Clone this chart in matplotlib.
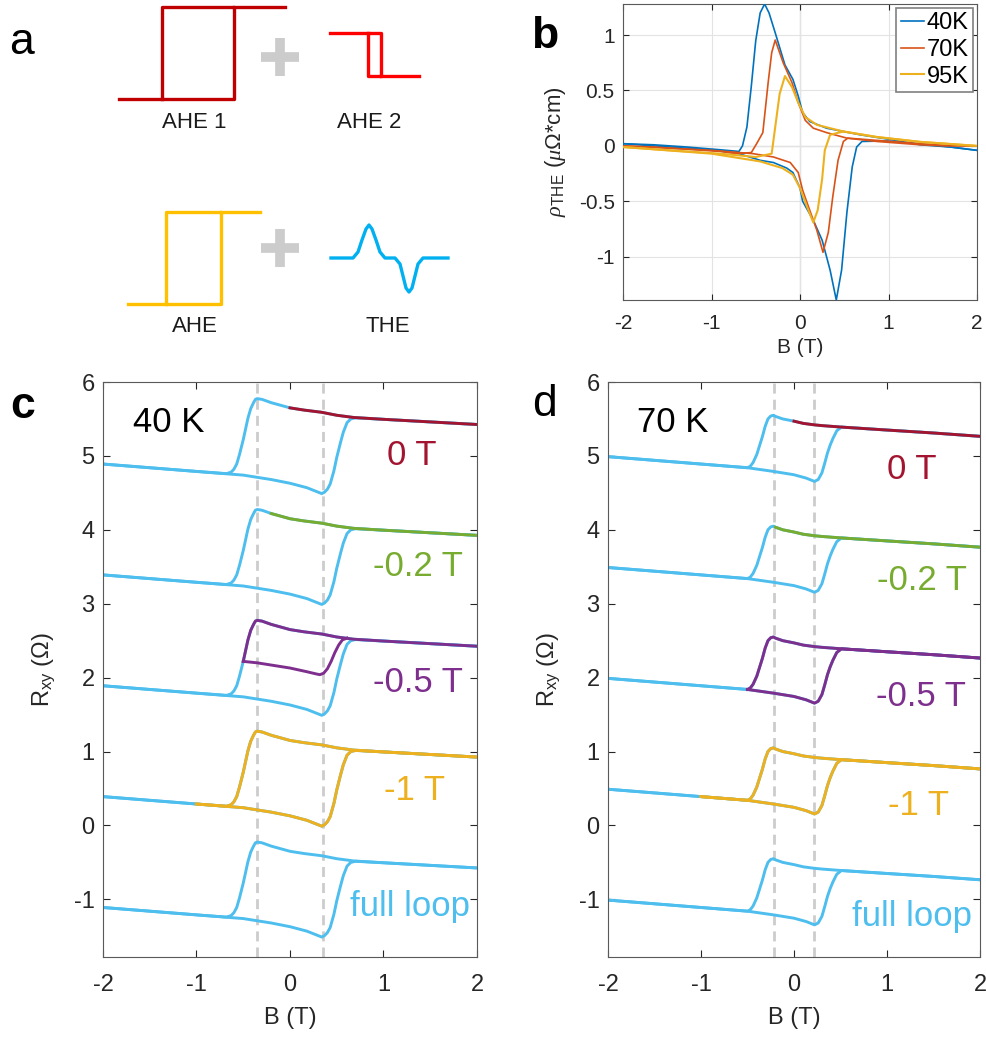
import matplotlib.pyplot as plt
import numpy as np

plt.rcParams['font.family'] = ['Liberation Sans', 'DejaVu Sans']
plt.rcParams['mathtext.fontset'] = 'custom'
plt.rcParams['mathtext.rm'] = 'Liberation Sans'
plt.rcParams['mathtext.it'] = 'Liberation Serif:italic'
plt.rcParams['mathtext.sf'] = 'Liberation Sans'

# ---- panel a: schematic loops (drawn in pixel-like units) ----
ahe1_x = [119, 234, 234, 162, 162, np.nan, 234, 285]
ahe1_y = [99, 99, 7, 7, 99, np.nan, 7, 7]
ahe2_x = [330, 381, 381, 368, 368, np.nan, 381, 419]
ahe2_y = [33, 33, 76, 76, 33, np.nan, 76, 76]
ahe_x = [128, 221, 221, 166, 166, np.nan, 221, 260]
ahe_y = [304, 304, 212, 212, 304, np.nan, 212, 212]
the_x = [331, 353, 358, 362, 366, 369, 372, 376, 380, 385, 395, 400, 403, 406, 409, 412, 415, 418, 423, 448]
the_y = [258, 258, 252, 240, 229, 225, 229, 240, 252, 258, 258, 264, 276, 288, 292, 288, 276, 264, 258, 258]

# ---- panel b: rho_THE vs B ----
b40_dn_B = [2.0, 1.7, 1.36, 1.05, 0.68, 0.3, 0.11, 0.03, -0.02, -0.08, -0.17, -0.28, -0.35, -0.40,
            -0.45, -0.5, -0.55, -0.6, -0.65, -0.69, -0.9, -1.28, -1.65, -2.0]
b40_dn_r = [-0.04, -0.01, 0.01, 0.054, 0.1, 0.16, 0.22, 0.3, 0.45, 0.6, 0.73, 1.02, 1.2, 1.28,
            1.2, 0.95, 0.54, 0.17, 0.0, -0.05, -0.035, -0.01, 0.01, 0.02]
b40_up_B = [-2.0, -1.47, -1.02, -0.71, -0.45, -0.3, -0.15, -0.08, 0.0, 0.03, 0.15, 0.25, 0.34, 0.41,
            0.47, 0.53, 0.59, 0.64, 0.70, 0.98, 1.36, 1.7, 2.0]
b40_up_r = [0.02, -0.01, -0.036, -0.065, -0.13, -0.15, -0.2, -0.24, -0.38, -0.5, -0.67, -0.85, -1.12, -1.39,
            -1.12, -0.6, -0.19, -0.01, 0.04, 0.045, 0.02, -0.01, -0.04]
b70_dn_B = [2.0, 1.65, 1.36, 0.87, 0.53, 0.3, 0.15, 0.06, -0.02, -0.09, -0.19, -0.28, -0.32, -0.36,
            -0.42, -0.49, -0.55, -0.72, -0.9, -1.28, -1.65, -2.0]
b70_dn_r = [0.0, 0.0, 0.01, 0.04, 0.07, 0.12, 0.16, 0.23, 0.39, 0.57, 0.75, 0.955, 0.84, 0.57,
            0.12, 0.02, -0.06, -0.07, -0.05, -0.03, -0.01, 0.0]
b70_up_B = [-2.0, -1.5, -1.0, -0.53, -0.3, -0.11, -0.02, 0.03, 0.11, 0.19, 0.26, 0.32, 0.37, 0.43,
            0.49, 0.54, 0.87, 1.36, 1.65, 2.0]
b70_up_r = [0.0, -0.02, -0.04, -0.07, -0.1, -0.15, -0.24, -0.4, -0.58, -0.76, -0.96, -0.78, -0.46, -0.13,
            0.04, 0.07, 0.05, 0.02, 0.005, 0.0]
b95_dn_B = [2.0, 1.65, 1.36, 0.87, 0.49, 0.19, 0.06, -0.02, -0.09, -0.17, -0.23, -0.28, -0.32, -0.5,
            -0.9, -1.28, -1.65, -2.0]
b95_dn_r = [0.0, 0.02, 0.036, 0.08, 0.13, 0.19, 0.26, 0.39, 0.53, 0.63, 0.47, 0.17, -0.07, -0.1,
            -0.07, -0.05, -0.03, -0.01]
b95_up_B = [-2.0, -1.5, -1.0, -0.45, -0.2, -0.08, 0.0, 0.08, 0.15, 0.2, 0.25, 0.28, 0.34, 0.49,
            0.87, 1.36, 1.65, 2.0]
b95_up_r = [-0.01, -0.04, -0.07, -0.14, -0.2, -0.26, -0.38, -0.55, -0.69, -0.58, -0.3, -0.04, 0.1, 0.13,
            0.08, 0.036, 0.02, 0.0]
b_temps = ['40K', '70K', '95K']
b_colors = ['#0072BD', '#D95319', '#EDB120']

# ---- panels c, d: Rxy loops (full loop, offset 0) ----
c_dn_B = [2.0, 1.5, 1.0, 0.68, 0.5, 0.34, 0.15, 0.0, -0.2, -0.3, -0.35, -0.37, -0.39, -0.42, -0.45,
          -0.5, -0.54, -0.57, -0.6, -0.63, -0.68, -1.0, -1.5, -2.0]
c_dn_R = [-0.575, -0.54, -0.505, -0.48, -0.45, -0.41, -0.38, -0.35, -0.28, -0.235, -0.225, -0.235, -0.28, -0.36, -0.49,
          -0.78, -0.98, -1.11, -1.18, -1.22, -1.24, -1.21, -1.16, -1.11]
c_up_B = [-2.0, -1.5, -1.0, -0.7, -0.5, -0.35, -0.2, 0.0, 0.18, 0.28, 0.34, 0.37, 0.40, 0.43, 0.47,
          0.5, 0.54, 0.57, 0.61, 0.65, 0.7, 1.0, 1.5, 2.0]
c_up_R = [-1.11, -1.16, -1.21, -1.24, -1.26, -1.29, -1.32, -1.37, -1.43, -1.48, -1.51, -1.49, -1.45, -1.38, -1.2,
          -1.02, -0.82, -0.68, -0.55, -0.5, -0.485, -0.505, -0.54, -0.575]
c_minor_B = [-0.5, -0.35, 0.0, 0.18, 0.28, 0.32, 0.36, 0.40, 0.44, 0.48, 0.52, 0.56, 0.61]
c_minor_R = [-0.78, -0.80, -0.87, -0.92, -0.95, -0.96, -0.94, -0.88, -0.78, -0.66, -0.56, -0.49, -0.465]

d_dn_B = [2.0, 1.5, 1.0, 0.51, 0.3, 0.22, 0.1, 0.0, -0.12, -0.2, -0.22, -0.25, -0.28, -0.31, -0.34,
          -0.37, -0.40, -0.44, -0.47, -0.5, -1.0, -1.5, -2.0]
d_dn_R = [-0.735, -0.69, -0.65, -0.61, -0.59, -0.58, -0.56, -0.53, -0.5, -0.465, -0.45, -0.46, -0.5, -0.6, -0.74,
          -0.86, -0.98, -1.09, -1.14, -1.16, -1.11, -1.06, -1.01]
d_up_B = [-2.0, -1.5, -1.0, -0.5, -0.22, 0.0, 0.13, 0.19, 0.22, 0.26, 0.30, 0.33, 0.36, 0.39, 0.42,
          0.46, 0.51, 1.0, 1.5, 2.0]
d_up_R = [-1.01, -1.06, -1.11, -1.16, -1.21, -1.255, -1.30, -1.33, -1.345, -1.32, -1.23, -1.10, -0.96, -0.85, -0.76,
          -0.66, -0.61, -0.65, -0.69, -0.735]

loop_stops = [0.0, -0.2, -0.5, -1.0, None]
loop_offsets = [6.0, 4.5, 3.0, 1.5, 0.0]
loop_labels = ['0 T', '-0.2 T', '-0.5 T', '-1 T', 'full loop']
loop_colors = ['#A2142F', '#77AC30', '#7E2F8E', '#EDB120', '#4DBEEE']
c_label_pos = [(1.30, 5.0), (1.37, 3.51), (1.37, 1.93), (1.33, 0.47), (1.28, -1.09)]
d_label_pos = [(1.27, 4.81), (1.38, 3.31), (1.37, 1.74), (1.34, 0.27), (1.27, -1.23)]
c_switch = [-0.35, 0.35]
d_switch = [-0.22, 0.22]

W, H = 987, 1041
fig = plt.figure(figsize=(W / 100, H / 100), dpi=100)
txt = '#262626'
edge = '#595959'

# panel a
axa = fig.add_axes([0, 1 - 340 / H, 480 / W, 340 / H])
axa.set_xlim(0, 480)
axa.set_ylim(340, 0)
axa.axis('off')
axa.plot(ahe1_x, ahe1_y, color='#C00000', lw=2.4)
axa.plot(ahe2_x, ahe2_y, color='#FF0000', lw=2.4)
axa.plot(ahe_x, ahe_y, color='#FFC000', lw=2.4)
axa.plot(the_x, the_y, color='#00B0F0', lw=2.4)
for cy in [57, 248]:
    axa.plot([261, 299], [cy, cy], color='#CCCCCC', lw=7, solid_capstyle='butt')
    axa.plot([280, 280], [cy - 19, cy + 19], color='#CCCCCC', lw=7, solid_capstyle='butt')
for s, x, y in [('AHE 1', 194, 122), ('AHE 2', 369, 122), ('AHE', 195, 326), ('THE', 388, 326)]:
    axa.text(x, y, s, ha='center', va='center', fontsize=16, color='#1a1a1a')

# panel b
axb = fig.add_axes([623 / W, 1 - 300 / H, 354 / W, 296 / H])
axb.grid(True, color='#e3e3e3', lw=0.8)
axb.axhline(0, color='#888888', lw=0.8, zorder=1)
axb.axvline(0, color='#888888', lw=0.8, zorder=1)
b_data = [(b40_dn_B, b40_dn_r, b40_up_B, b40_up_r),
          (b70_dn_B, b70_dn_r, b70_up_B, b70_up_r),
          (b95_dn_B, b95_dn_r, b95_up_B, b95_up_r)]
for (dB, dr, uB, ur), name, col, lw in zip(b_data, b_temps, b_colors, [1.2, 1.2, 1.5]):
    axb.plot(dB, dr, color=col, lw=lw, label=name, zorder=3)
    axb.plot(uB, ur, color=col, lw=lw, zorder=3)
axb.set_xlim(-2, 2)
axb.set_ylim(-1.39, 1.28)
axb.set_xticks([-2, -1, 0, 1, 2])
axb.set_yticks([-1, -0.5, 0, 0.5, 1])
axb.set_yticklabels(['-1', '-0.5', '0', '0.5', '1'])
axb.set_xticklabels(['-2', '-1', '0', '1', '2'])
axb.tick_params(direction='in', top=True, right=True, labelsize=15, colors=txt, length=4)
axb.tick_params(axis='x', pad=10)
axb.tick_params(axis='y', pad=6)
axb.set_xlabel('B (T)', fontsize=15, color=txt, labelpad=4)
axb.set_ylabel(r'$\rho_{\mathrm{THE}}$ ($\mu\mathit{\Omega}$*cm)', fontsize=16, color=txt, labelpad=8)
for sp in axb.spines.values():
    sp.set_color(edge)
leg = axb.legend(loc='upper right', fontsize=17, handlelength=1.0, handletextpad=0.1,
                 borderaxespad=0.15, labelspacing=0.2, borderpad=0.2, fancybox=False,
                 edgecolor='#808080', framealpha=1)
leg.get_frame().set_linewidth(1.2)


def draw_loops(ax, dn_B, dn_R, up_B, up_R, minor, switch, label_pos, temp):
    dn_B = np.array(dn_B)
    dn_R = np.array(dn_R)
    up_B = np.array(up_B)
    up_R = np.array(up_R)
    for xs in switch:
        ax.axvline(xs, color='#CCCCCC', lw=2, dashes=(3.6, 2.2), zorder=1)
    blue = loop_colors[-1]
    for stop, off, lab, col, (tx, ty) in zip(loop_stops, loop_offsets, loop_labels, loop_colors, label_pos):
        ax.plot(up_B, up_R + off, color=blue, lw=2.1, zorder=2)
        ax.plot(dn_B, dn_R + off, color=blue, lw=2.1, zorder=2)
        if stop is not None:
            m = dn_B >= stop - 1e-9
            ax.plot(dn_B[m], dn_R[m] + off, color=col, lw=2.1, zorder=3)
            if stop <= -0.5:
                if minor is not None and stop == -0.5:
                    ax.plot(minor[0], np.array(minor[1]) + off, color=col, lw=2.1, zorder=3)
                else:
                    mu = up_B >= stop - 1e-9
                    ax.plot(up_B[mu], up_R[mu] + off, color=col, lw=2.1, zorder=3)
        ax.text(tx, ty, lab, color=col, fontsize=25, ha='center', va='center')
    ax.text(-1.30, 5.45, temp, fontsize=25, ha='center', va='center', color='black')
    ax.set_xlim(-2, 2)
    ax.set_ylim(-1.78, 6)
    ax.set_xticks([-2, -1, 0, 1, 2])
    ax.set_xticklabels(['-2', '-1', '0', '1', '2'])
    ax.set_yticks([-1, 0, 1, 2, 3, 4, 5, 6])
    ax.set_yticklabels(['-1', '0', '1', '2', '3', '4', '5', '6'])
    ax.tick_params(direction='in', top=True, right=True, labelsize=17, colors=txt, length=5)
    ax.tick_params(axis='x', pad=12)
    ax.tick_params(axis='y', pad=6)
    ax.set_xlabel('B (T)', fontsize=17, color=txt, labelpad=8)
    ax.set_ylabel(r'R$_{\mathrm{xy}}$ ($\mathit{\Omega}$)', fontsize=17, color=txt, labelpad=12)
    for sp in ax.spines.values():
        sp.set_color(edge)


axc = fig.add_axes([103 / W, 1 - 957 / H, 374 / W, 575 / H])
draw_loops(axc, c_dn_B, c_dn_R, c_up_B, c_up_R, (c_minor_B, c_minor_R), c_switch, c_label_pos, '40 K')
axd = fig.add_axes([608 / W, 1 - 957 / H, 372 / W, 575 / H])
draw_loops(axd, d_dn_B, d_dn_R, d_up_B, d_up_R, None, d_switch, d_label_pos, '70 K')

# panel letters
fig.text(22 / W, 1 - 42 / H, 'a', fontsize=32, ha='center', va='center')
fig.text(545 / W, 1 - 36 / H, 'b', fontsize=32, ha='center', va='center', fontweight='bold')
fig.text(23 / W, 1 - 407 / H, 'c', fontsize=32, ha='center', va='center', fontweight='bold')
fig.text(545 / W, 1 - 405 / H, 'd', fontsize=32, ha='center', va='center')

fig.savefig('out.png', dpi=100)
